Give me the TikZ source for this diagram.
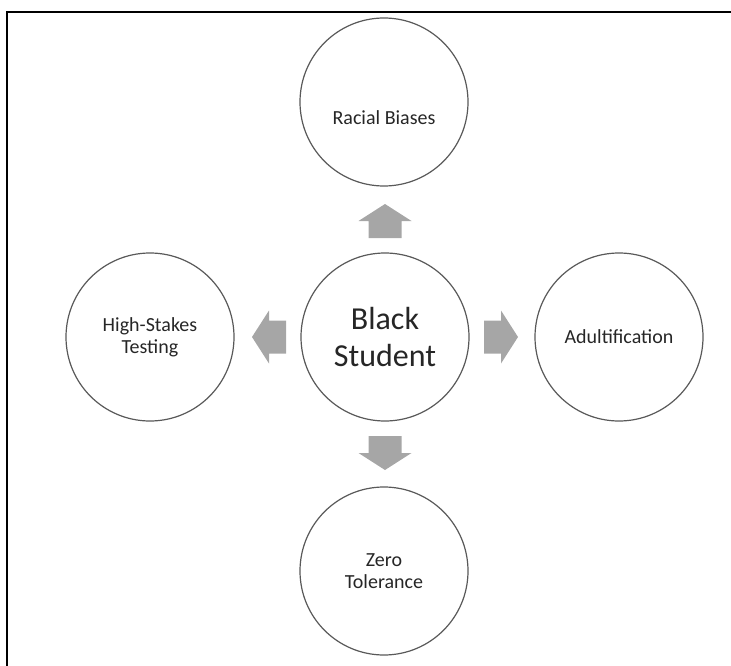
\documentclass[tikz,border=0pt]{standalone}
\usepackage{fontspec}
\setmainfont{Carlito}
\usetikzlibrary{calc}
\usepackage{xcolor}
\definecolor{arrowgray}{HTML}{A6A6A6}
\definecolor{ringgray}{HTML}{595959}

\begin{document}
\begin{tikzpicture}[x=1pt, y=-1pt,
  txt/.style={text=black!85, align=center, font=\fontsize{20}{22}\selectfont},
  bubble/.style={circle, draw=ringgray, line width=1.2pt, minimum size=168pt, inner sep=0pt, txt}]
\useasboundingbox (0,0) rectangle (731,666);
\draw[black, line width=2.5pt] (7,666)--(7,12)--(731,12);
% middle and the four outer circles
\node[bubble, font=\fontsize{32}{37}\selectfont] (stu) at (385,337) {Black\\Student};
\node[bubble, label={[txt, yshift=-16pt]center:Racial Biases}] (bias) at (384,102) {};
\node[bubble] (test) at (150,337) {High-Stakes\\Testing};
\node[bubble] (adult) at (619,337) {Adultification};
\node[bubble] (zero) at (384,571) {Zero\\Tolerance};
% block arrows
\foreach \a in {0,90,180,270} {
\fill[arrowgray, shift={(stu.center)}, rotate=\a] (99,-16.5)--(116,-16.5)--(116,-26.5)--(133,0)--(116,26.5)--(116,16.5)--(99,16.5)--cycle;
}
\end{tikzpicture}
\end{document}
